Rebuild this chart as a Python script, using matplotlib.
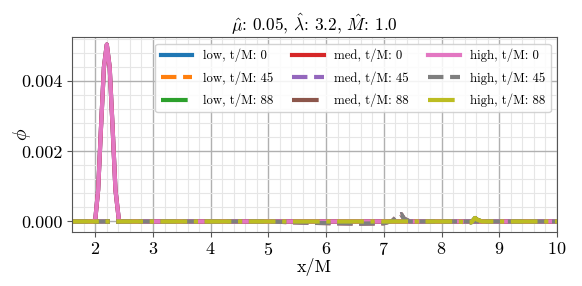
"""
Scalar field profile phi(x) at three resolutions and three times.
"""
import matplotlib
matplotlib.use('Agg')
import matplotlib.pyplot as plt
from matplotlib.ticker import AutoMinorLocator

plt.rcParams['font.family'] = 'serif'
plt.rcParams['font.serif'] = ['cmr10', 'DejaVu Serif']
plt.rcParams['mathtext.fontset'] = 'cm'
plt.rcParams['axes.formatter.use_mathtext'] = True

# initial pulse (t/M = 0), same for all resolutions
x_t0 = [1.6, 1.96, 2.0, 2.05, 2.1, 2.15, 2.2, 2.25, 2.3, 2.35, 2.41, 2.45, 10.0]
phi_t0 = [0.0, 0.0, 0.00005, 0.0009, 0.0027, 0.0044, 0.00505, 0.0044, 0.0027,
          0.0009, 0.00003, 0.0, 0.0]

# t/M = 45: pulse has travelled out, small tail behind it
x_t45 = [1.6, 5.0, 5.4, 5.8, 6.2, 6.6, 7.0, 7.15, 7.25, 7.3, 7.35, 7.45, 10.0]
phi_t45 = [0.0, 0.0, -0.00002, -0.00004, -0.00005, -0.00006, -0.00005,
           0.00002, 0.00018, 0.00021, 0.00008, 0.0, 0.0]

# t/M = 88
x_t88 = [1.6, 8.3, 8.45, 8.52, 8.58, 8.62, 8.7, 10.0]
phi_t88 = [0.0, 0.0, -0.00003, -0.00002, 0.0001, 0.00005, 0.0, 0.0]

resolutions = ['low', 'med', 'high']
times = [0, 45, 88]
x_ticks = [2, 3, 4, 5, 6, 7, 8, 9, 10]
colors = {
    ('low', 0): 'tab:blue', ('low', 45): 'tab:orange', ('low', 88): 'tab:green',
    ('med', 0): 'tab:red', ('med', 45): 'tab:purple', ('med', 88): 'tab:brown',
    ('high', 0): 'tab:pink', ('high', 45): 'tab:gray', ('high', 88): 'tab:olive',
}
styles = {0: '-', 45: '--', 88: '-.'}
series = {0: (x_t0, phi_t0), 45: (x_t45, phi_t45), 88: (x_t88, phi_t88)}

fig, ax = plt.subplots(figsize=(5.82, 2.86), dpi=100)

for res in resolutions:
    for t in times:
        xs, ys = series[t]
        ax.plot(xs, ys, color=colors[(res, t)], linestyle=styles[t], lw=3,
                label=f'{res}, t/M: {t}')

ax.set_xlim(1.6, 10)
ax.set_ylim(-0.00029, 0.00526)
ax.set_xticks(x_ticks)
ax.set_yticks([0, 0.002, 0.004])
ax.set_yticklabels(['0.000', '0.002', '0.004'])
ax.xaxis.set_minor_locator(AutoMinorLocator(5))
ax.yaxis.set_minor_locator(AutoMinorLocator(5))
ax.grid(which='major', color='#b0b0b0', lw=1)
ax.grid(which='minor', color='#e6e6e6', lw=0.8)
ax.set_axisbelow(True)
for s in ax.spines.values():
    s.set_color('#555555')
ax.tick_params(labelsize=13, color='#555555')
ax.tick_params(which='minor', length=0)

ax.set_title(r'$\hat{\mu}$: 0.05, $\hat{\lambda}$: 3.2, $\hat{M}$: 1.0', fontsize=12.5, pad=1.5)
ax.set_xlabel('x/M', fontsize=13, labelpad=0)
ax.set_ylabel(r'$\phi$', fontsize=14)
ax.yaxis.set_label_coords(-0.08, 0.5)

ax.legend(ncol=3, loc='upper right', fontsize=9.2, framealpha=0.85,
          handlelength=2.5, handletextpad=0.8, columnspacing=1.5,
          labelspacing=0.7, borderaxespad=0.5)

fig.subplots_adjust(left=0.124, right=0.957, top=0.87, bottom=0.19)
fig.savefig('out.png', dpi=100)
